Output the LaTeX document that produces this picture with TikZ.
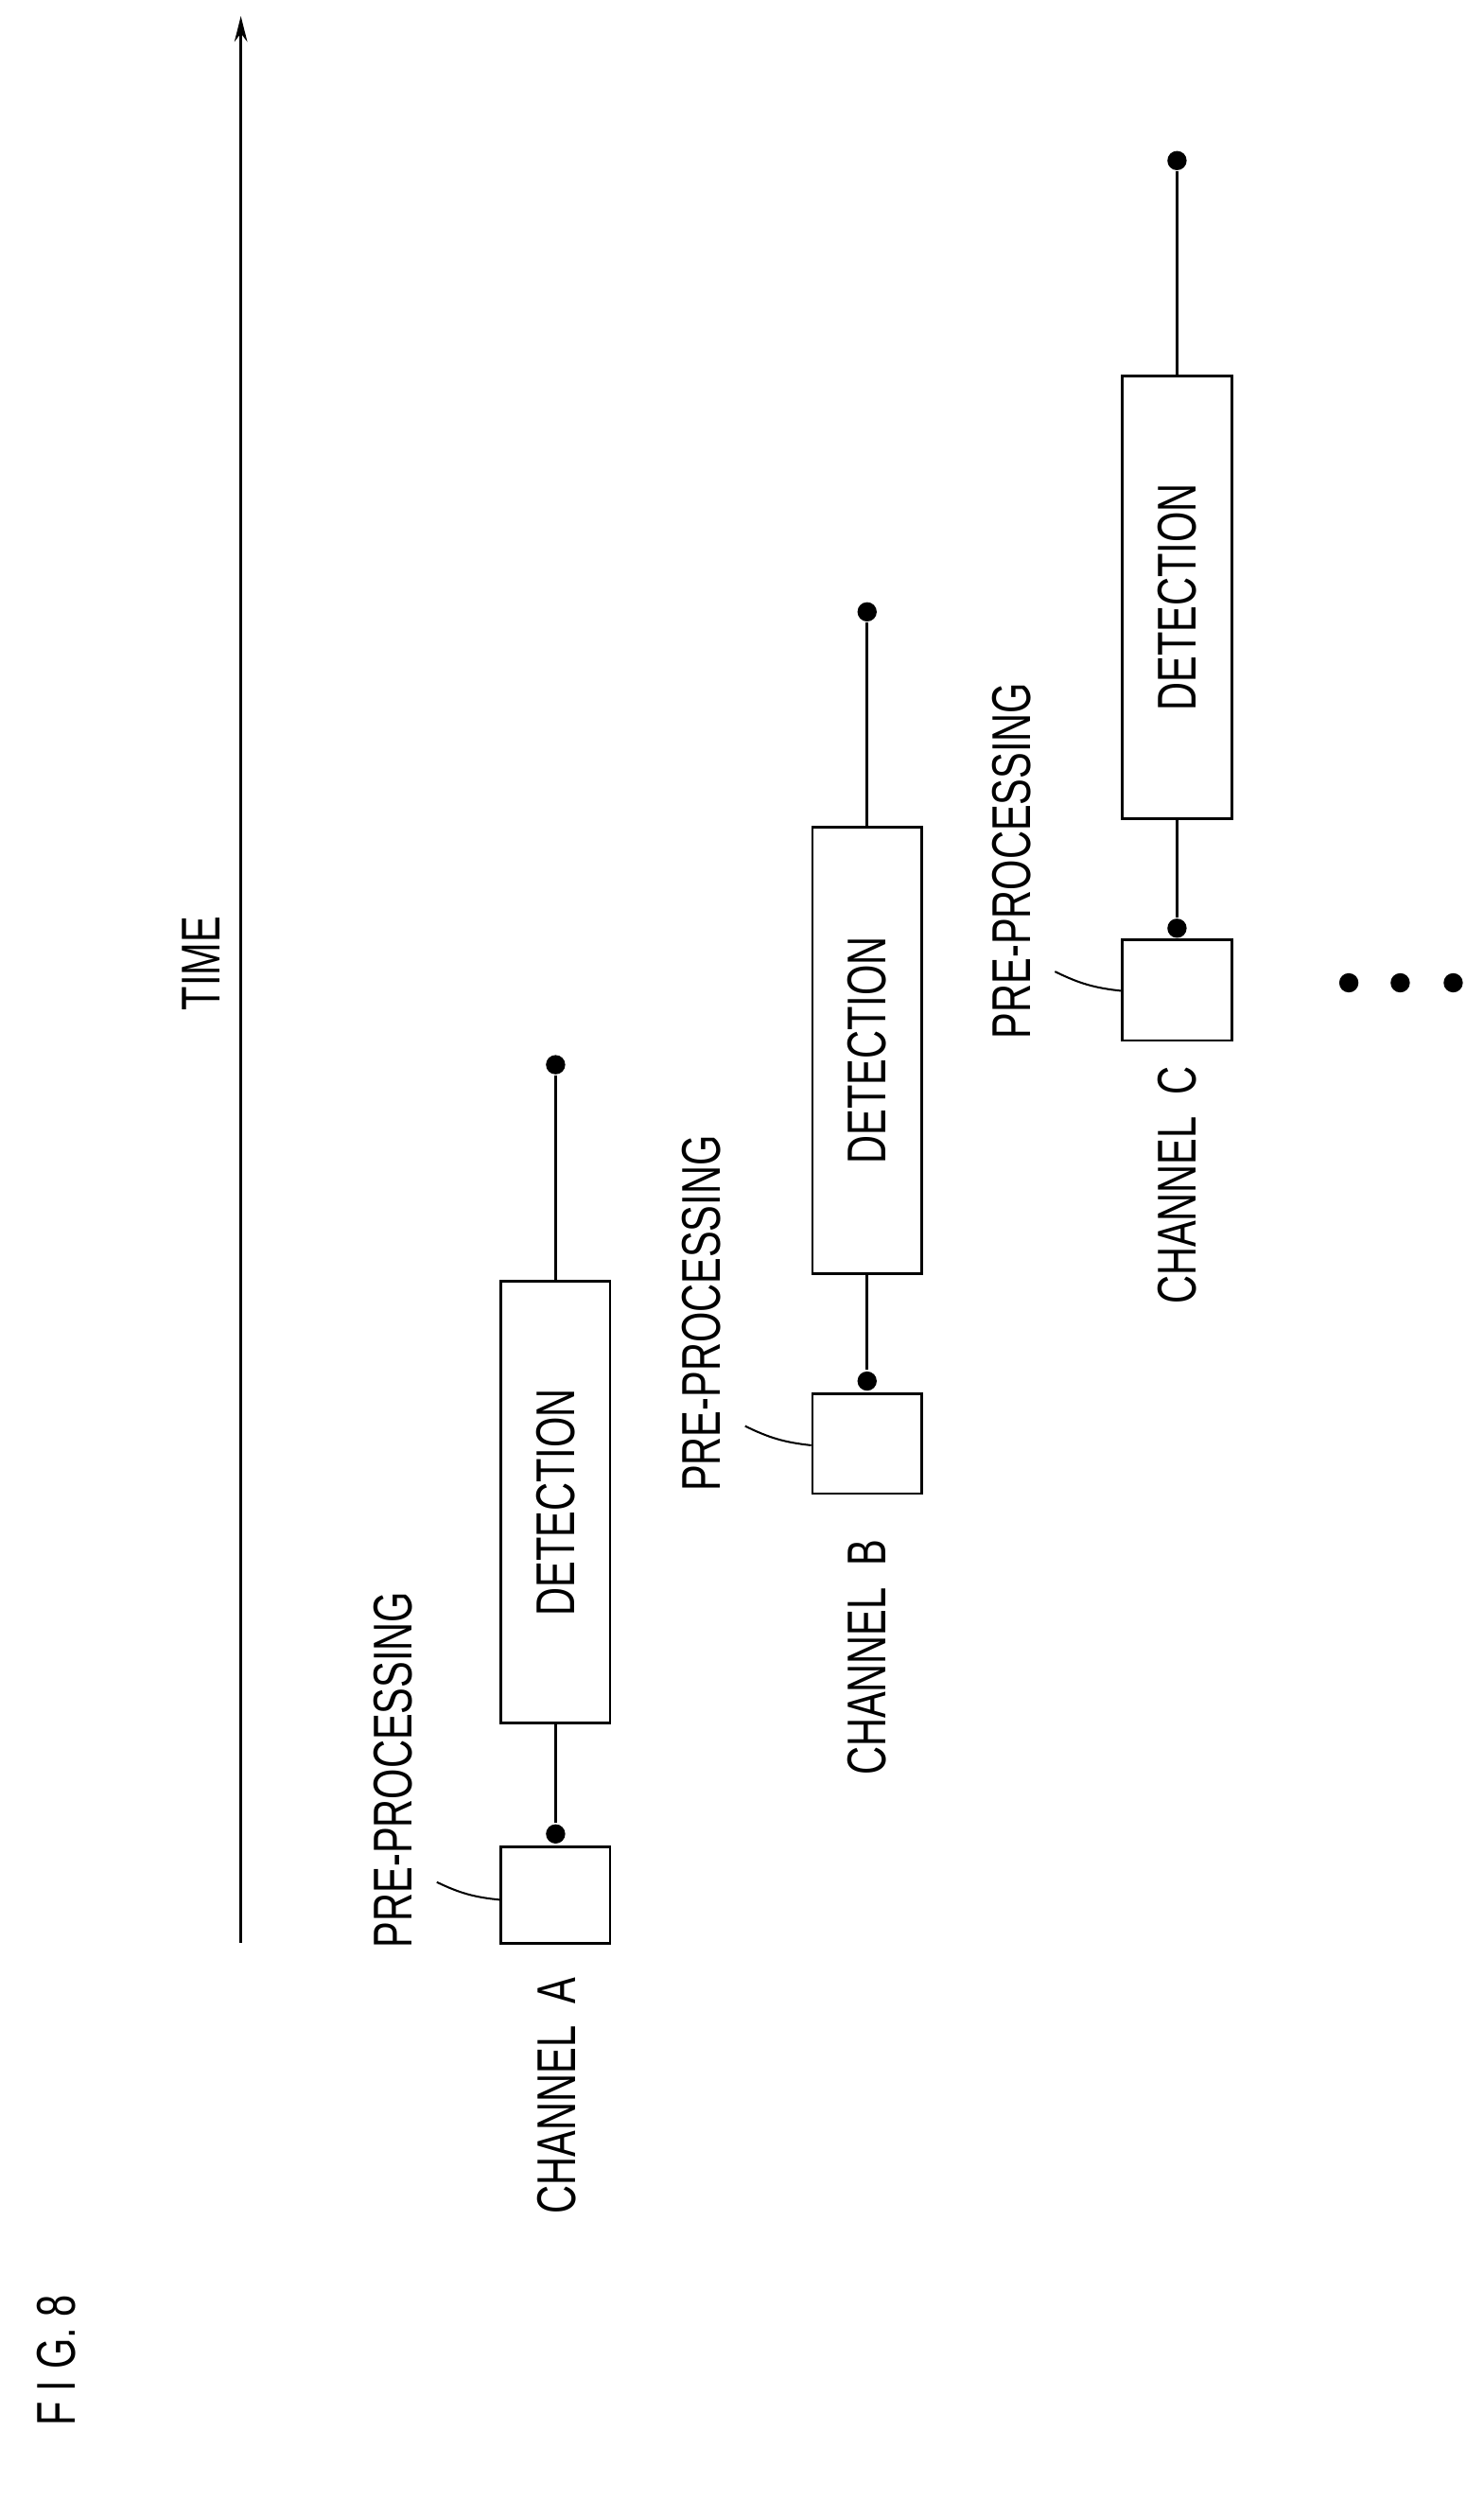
\documentclass[tikz,border=0pt]{standalone}
\usepackage{fontspec}
\setmainfont{Liberation Sans}
\usetikzlibrary{arrows.meta}
\begin{document}
\begin{tikzpicture}[x=1pt,y=-1pt,line width=1.6pt,
  box/.style={draw,minimum width=68pt,inner sep=0pt},
  dot/.style={circle,fill,inner sep=0pt,minimum size=12pt},
  txt/.style={rotate=90,inner sep=0pt,font=\fontsize{34}{36}\selectfont},
  lead/.style={line width=1.2pt}]
\useasboundingbox (0,0) rectangle (924,1568);
\newcommand{\sq}[1]{\scalebox{0.72}[1]{#1}}
\coordinate (t0) at (150,1210);
\coordinate (t1) at (150,10);
\draw[-{Stealth[length=16pt,width=8pt]}] (t0) -- (t1);
\node[txt] (time) at (125,600) {\sq{TIME}};
\node[txt] (fig) at (35,1470) {\sq{F I G. 8}};
% channel A
\node[box,minimum height=60pt] (pa) at (346,1180) {};
\node[box,minimum height=275pt] (da) at (346,935.5) {};
\node[txt] at (da) {\sq{DETECTION}};
\node[dot] (ca) at (346,1142) {};
\node[dot] (ea) at (346,663) {};
\draw (ca) -- (da.south); \draw (da.north) -- (ea);
\node[txt] (ppa) at (245,1102) {\sq{PRE-PROCESSING}};
\node[txt] (cha) at (347,1305) {\sq{CHANNEL\ \ A}};
\draw[lead] (272,1172) to[bend right=10] (pa.west|-0,1183);
% channel B
\node[box,minimum height=62pt] (pb) at (540,899) {};
\node[box,minimum height=278pt] (db) at (540,654) {};
\node[txt] at (db) {\sq{DETECTION}};
\node[dot] (cb) at (540,860) {};
\node[dot] (eb) at (540,381) {};
\draw (cb) -- (db.south); \draw (db.north) -- (eb);
\node[txt] (ppb) at (437,818) {\sq{PRE-PROCESSING}};
\node[txt] (chb) at (540,1032) {\sq{CHANNEL\ \ B}};
\draw[lead] (464,888) to[bend right=10] (pb.west|-0,900);
% channel C
\node[box,minimum height=63pt] (pc) at (733,616.5) {};
\node[box,minimum height=276pt] (dc) at (733,372) {};
\node[txt] at (dc) {\sq{DETECTION}};
\node[dot] (cc) at (733,578) {};
\node[dot] (ec) at (733,100) {};
\draw (cc) -- (dc.south); \draw (dc.north) -- (ec);
\node[txt] (ppc) at (630,536) {\sq{PRE-PROCESSING}};
\node[txt] (chc) at (733,738) {\sq{CHANNEL\ \ C}};
\node[dot] (d1) at (840,612) {};
\node[dot] (d2) at (872,612) {};
\node[dot] (d3) at (905,612) {};
\draw[lead] (657,605) to[bend right=10] (pc.west|-0,617);
\end{tikzpicture}
\end{document}
